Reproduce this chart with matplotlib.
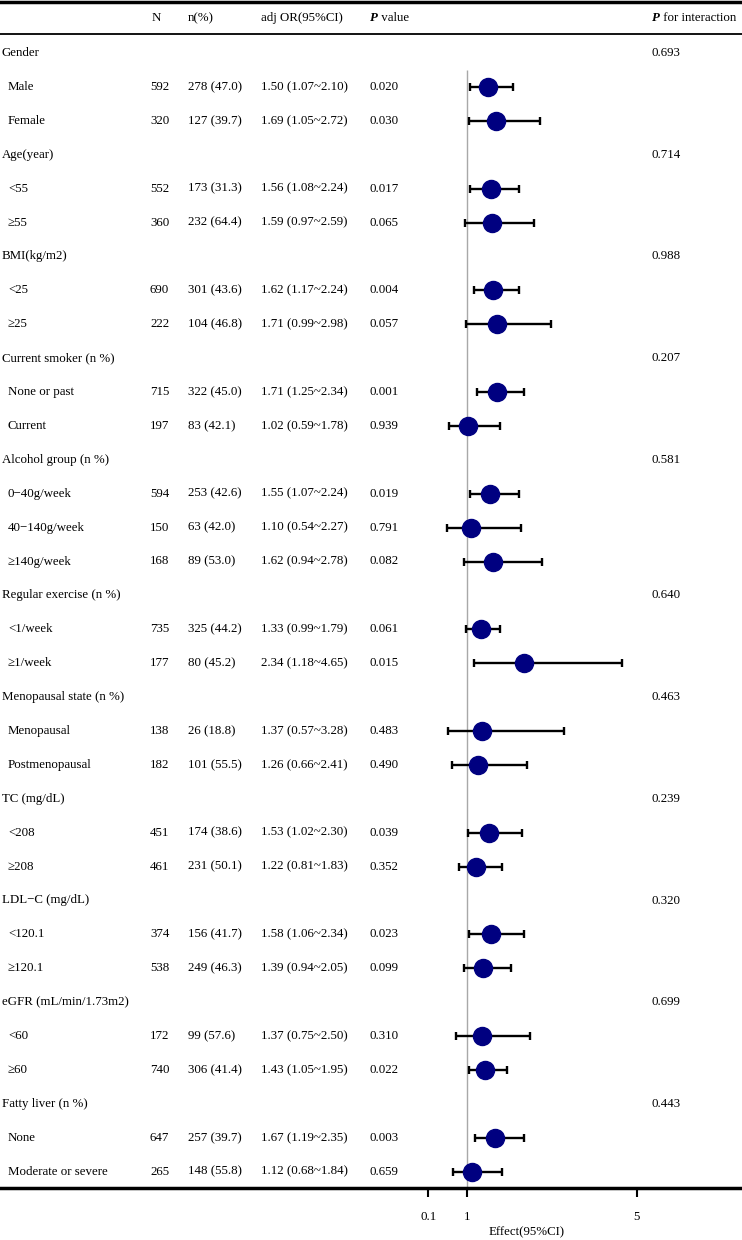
import matplotlib
matplotlib.use("Agg")
import matplotlib.pyplot as plt
import numpy as np

plt.rcParams['font.family'] = ['Liberation Serif', 'DejaVu Serif']

# groups: name, p for interaction, number of subgroups
groups = ["Gender", "Age(year)", "BMI(kg/m2)", "Current smoker (n %)", "Alcohol group (n %)",
          "Regular exercise (n %)", "Menopausal state (n %)", "TC (mg/dL)", "LDL\u2212C (mg/dL)",
          "eGFR (mL/min/1.73m2)", "Fatty liver (n %)"]
p_inter = ["0.693", "0.714", "0.988", "0.207", "0.581", "0.640", "0.463", "0.239", "0.320", "0.699", "0.443"]
n_sub = [2, 2, 2, 2, 3, 2, 2, 2, 2, 2, 2]

sub_labels = ["Male", "Female", "<55", "\u226555", "<25", "\u226525", "None or past", "Current",
              "0\u221240g/week", "40\u2212140g/week", "\u2265140g/week", "<1/week", "\u22651/week",
              "Menopausal", "Postmenopausal", "<208", "\u2265208", "<120.1", "\u2265120.1",
              "<60", "\u226560", "None", "Moderate or severe"]
N = [592, 320, 552, 360, 690, 222, 715, 197, 594, 150, 168, 735, 177, 138, 182, 451, 461, 374, 538, 172, 740, 647, 265]
n_ev = [278, 127, 173, 232, 301, 104, 322, 83, 253, 63, 89, 325, 80, 26, 101, 174, 231, 156, 249, 99, 306, 257, 148]
pct = ["47.0", "39.7", "31.3", "64.4", "43.6", "46.8", "45.0", "42.1", "42.6", "42.0", "53.0", "44.2", "45.2",
       "18.8", "55.5", "38.6", "50.1", "41.7", "46.3", "57.6", "41.4", "39.7", "55.8"]
OR = [1.50, 1.69, 1.56, 1.59, 1.62, 1.71, 1.71, 1.02, 1.55, 1.10, 1.62, 1.33, 2.34, 1.37, 1.26, 1.53, 1.22, 1.58, 1.39, 1.37, 1.43, 1.67, 1.12]
lo = [1.07, 1.05, 1.08, 0.97, 1.17, 0.99, 1.25, 0.59, 1.07, 0.54, 0.94, 0.99, 1.18, 0.57, 0.66, 1.02, 0.81, 1.06, 0.94, 0.75, 1.05, 1.19, 0.68]
hi = [2.10, 2.72, 2.24, 2.59, 2.24, 2.98, 2.34, 1.78, 2.24, 2.27, 2.78, 1.79, 4.65, 3.28, 2.41, 2.30, 1.83, 2.34, 2.05, 2.50, 1.95, 2.35, 1.84]
pval = ["0.020", "0.030", "0.017", "0.065", "0.004", "0.057", "0.001", "0.939", "0.019", "0.791", "0.082", "0.061",
        "0.015", "0.483", "0.490", "0.039", "0.352", "0.023", "0.099", "0.310", "0.022", "0.003", "0.659"]

xticks = [0.1, 1, 5]

W, H = 742, 1240
ROW = 33.9
FIRST = 53.0
def row_of(px):
    return (px - FIRST) / ROW

fig = plt.figure(figsize=(W / 100, H / 100), dpi=100)
ax = fig.add_axes([0, 0, 1, 1])
ax.set_xlim(1 - 466.7 / 42.5, 1 + (W - 466.7) / 42.5)
ax.set_ylim(row_of(H), row_of(0))
trans = ax.get_yaxis_transform()
fs = 9.3

# build rows
sub_y = []
r = 0
for g, p, m in zip(groups, p_inter, n_sub):
    ax.text(2 / W, r, g, transform=trans, va='center', ha='left', fontsize=fs)
    ax.text(652 / W, r, p, transform=trans, va='center', ha='left', fontsize=fs)
    r += 1
    for j in range(m):
        sub_y.append(r)
        r += 1
sub_y = np.array(sub_y)

for i, y in enumerate(sub_y):
    ax.text(8 / W, y, sub_labels[i], transform=trans, va='center', ha='left', fontsize=fs)
    ax.text(150 / W, y, str(N[i]), transform=trans, va='center', ha='left', fontsize=fs)
    ax.text(188 / W, y, "%d (%s)" % (n_ev[i], pct[i]), transform=trans, va='center', ha='left', fontsize=fs)
    ax.text(261 / W, y, "%.2f (%.2f~%.2f)" % (OR[i], lo[i], hi[i]), transform=trans, va='center', ha='left', fontsize=fs)
    ax.text(370 / W, y, pval[i], transform=trans, va='center', ha='left', fontsize=fs)

# header
hy = row_of(18)
ax.text(152 / W, hy, "N", transform=trans, va='center', ha='left', fontsize=fs)
ax.text(188 / W, hy, "n(%)", transform=trans, va='center', ha='left', fontsize=fs)
ax.text(261 / W, hy, "adj OR(95%CI)", transform=trans, va='center', ha='left', fontsize=fs)
t1 = ax.text(370 / W, hy, "P", transform=trans, va='center', ha='left', fontsize=fs, weight='bold', style='italic')
ax.annotate(" value", xy=(1, 0), xycoords=t1, va='bottom', ha='left', fontsize=fs)
t2 = ax.text(652 / W, hy, "P", transform=trans, va='center', ha='left', fontsize=fs, weight='bold', style='italic')
ax.annotate(" for interaction", xy=(1, 0), xycoords=t2, va='bottom', ha='left', fontsize=fs)

ax.axhline(row_of(2), color='black', lw=2.5)
ax.axhline(row_of(34), color='black', lw=1.3)

OR_a = np.array(OR)
ax.vlines(1, 0.5, row_of(1188), color='#A8A8A8', lw=1, zorder=1)
ax.errorbar(OR_a, sub_y, xerr=[OR_a - np.array(lo), np.array(hi) - OR_a], fmt='none',
            ecolor='black', elinewidth=1.7, capsize=2.9, capthick=1.7, zorder=2)
ax.plot(OR_a, sub_y, 'o', ms=13, color='#000080', zorder=3)

# bottom axis
for s in ['top', 'left', 'right']:
    ax.spines[s].set_visible(False)
ax.spines['bottom'].set_position(('data', row_of(1188)))
ax.spines['bottom'].set_linewidth(2.5)
ax.set_yticks([])
ax.set_xticks(xticks)
ax.set_xticklabels(["0.1", "1", "5"], fontsize=fs)
ax.tick_params(axis='x', direction='out', length=6.5, width=1.5, pad=10)
ax.text(2.4, row_of(1232), "Effect(95%CI)", ha='center', va='center', fontsize=fs)

fig.savefig("out.png", dpi=100)
